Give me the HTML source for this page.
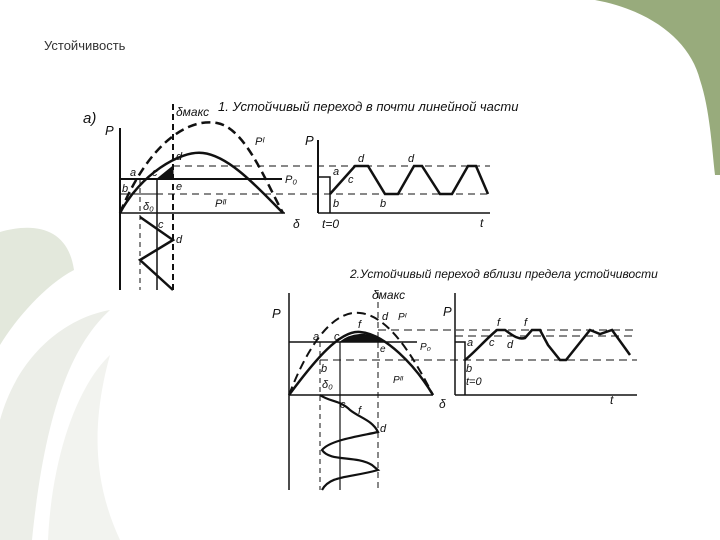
<!DOCTYPE html>
<html><head><meta charset="utf-8"><style>
html,body{margin:0;padding:0;width:720px;height:540px;overflow:hidden;background:#fff}
svg{position:absolute;left:0;top:0}
text{font-family:"Liberation Sans",sans-serif}
.it{font-style:italic;font-size:13px;fill:#111}
</style></head><body>
<svg width="720" height="540" viewBox="0 0 720 540">
<!-- background decorations -->
<path d="M0 232 C35 222 68 228 74 270 C45 285 15 320 0 345 Z" fill="#e3e8dc"/>
<path d="M0 420 C18 355 65 318 110 310 C72 345 45 410 32 540 L0 540 Z" fill="#eceee8"/>
<path d="M48 540 C52 455 78 385 110 355 C92 420 92 480 120 540 Z" fill="#f2f3ef"/>
<path d="M595 0 C650 10 690 40 700 80 C710 110 712 150 715 175 L720 175 L720 0 Z" fill="#98ab7c"/>
<text x="44" y="50" font-size="13" fill="#333">Устойчивость</text>

<g stroke="#111" fill="none">
<!-- Fig 1 -->
<line x1="120" y1="128" x2="120" y2="290" stroke-width="2"/>
<line x1="120" y1="213" x2="285" y2="213" stroke-width="1.5"/>
<line x1="120" y1="179" x2="282" y2="179" stroke-width="2"/>
<line x1="173" y1="166" x2="490" y2="166" stroke-dasharray="7,5"/>
<line x1="120" y1="194" x2="490" y2="194" stroke-dasharray="7,5"/>
<line x1="140" y1="179" x2="140" y2="290" stroke-dasharray="5,4"/>
<line x1="157" y1="179" x2="157" y2="290" stroke-width="1.5"/>
<line x1="173" y1="104" x2="173" y2="290" stroke-width="2" stroke-dasharray="6,4"/>
<path d="M120 213 C150 140 190 118 217 123 C245 128 265 180 283 213" stroke-width="2.5" stroke-dasharray="9,5"/>
<path d="M120 213 C140 175 180 150 203 153 C230 156 260 190 283 213" stroke-width="2.5"/>
<path d="M140 217 L173 240 L140 260 L173 290" stroke-width="2.5"/>
<path d="M157 179 L173 166 L173 179 Z" fill="#111"/>
<line x1="120" y1="194" x2="157" y2="194"/>
<!-- right plot 1 -->
<line x1="318" y1="140" x2="318" y2="213" stroke-width="2"/>
<line x1="318" y1="213" x2="490" y2="213" stroke-width="1.5"/>
<path d="M318 177 L330 177 L330 213" stroke-width="1.5"/>
<path d="M330 194 L355 166 L368 166 L385 194 L398 194 L414 166 L422 166 L440 194 L452 194 L468 166 L476 166 L488 194" stroke-width="2.5"/>

<!-- Fig 2 -->
<line x1="289" y1="293" x2="289" y2="490" stroke-width="1.5"/>
<line x1="289" y1="395" x2="433" y2="395" stroke-width="1.5"/>
<line x1="289" y1="342" x2="417" y2="342" stroke-width="1.5"/>
<line x1="378" y1="330" x2="637" y2="330" stroke-dasharray="8,5"/>
<line x1="455" y1="336" x2="637" y2="336" stroke-dasharray="8,5"/>
<line x1="320" y1="360" x2="637" y2="360" stroke-dasharray="8,5"/>
<line x1="320" y1="342" x2="320" y2="490" stroke-dasharray="5,4"/>
<line x1="340" y1="342" x2="340" y2="490" stroke-width="1.2"/>
<line x1="378" y1="292" x2="378" y2="490" stroke-dasharray="6,4"/>
<path d="M289 395 C310 340 335 310 360 313 C390 316 415 360 433 395" stroke-width="2" stroke-dasharray="9,5"/>
<path d="M289 395 C315 360 340 330 360 332 C385 334 415 365 433 395" stroke-width="2.5"/>
<path d="M340 342 C350 334 368 330 382 342 Z" fill="#111"/>
<path d="M320 395 C330 402 340 400 350 410 C360 418 372 420 378 432 C360 436 330 440 322 450 C330 462 355 455 372 465 L378 470 C350 478 330 475 322 490" stroke-width="2.2"/>
<line x1="455" y1="293" x2="455" y2="395" stroke-width="1.5"/>
<line x1="455" y1="395" x2="637" y2="395" stroke-width="1.5"/>
<path d="M455 342 L465 342 L465 395" stroke-width="1.5"/>
<path d="M465 360 C475 352 485 340 497 330 L505 330 C512 335 518 340 525 338 L532 330 L540 330 L548 345 L560 360 L566 360 L590 330 L600 334 L612 330 L625 348 L630 355" stroke-width="2.5"/>
</g>

<g class="it">
<text x="83" y="123" font-size="15">а)</text>
<text x="105" y="135">P</text>
<text x="176" y="116" font-size="12">δмакс</text>
<text x="218" y="111" font-size="13">1. Устойчивый переход в почти линейной части</text>
<text x="255" y="145" font-size="11">Pᴵ</text>
<text x="130" y="176" font-size="11">a</text>
<text x="152" y="176" font-size="11">c</text>
<text x="176" y="160" font-size="11">d</text>
<text x="176" y="190" font-size="11">e</text>
<text x="122" y="192" font-size="11">b</text>
<text x="143" y="210" font-size="11">δ₀</text>
<text x="285" y="183" font-size="11">P₀</text>
<text x="215" y="207" font-size="11">Pᴵᴵ</text>
<text x="158" y="228" font-size="11">c</text>
<text x="176" y="243" font-size="11">d</text>
<text x="293" y="228" font-size="12">δ</text>
<text x="305" y="145">P</text>
<text x="333" y="175" font-size="11">a</text>
<text x="348" y="183" font-size="11">c</text>
<text x="358" y="162" font-size="11">d</text>
<text x="408" y="162" font-size="11">d</text>
<text x="333" y="207" font-size="11">b</text>
<text x="380" y="207" font-size="11">b</text>
<text x="322" y="228" font-size="12">t=0</text>
<text x="480" y="227" font-size="12">t</text>

<text x="350" y="278" font-size="12">2.Устойчивый переход вблизи предела устойчивости</text>
<text x="372" y="299" font-size="12">δмакс</text>
<text x="272" y="318">P</text>
<text x="313" y="340" font-size="11">a</text>
<text x="334" y="340" font-size="11">c</text>
<text x="358" y="328" font-size="11">f</text>
<text x="382" y="320" font-size="11">d</text>
<text x="398" y="320" font-size="10">Pᴵ</text>
<text x="380" y="352" font-size="10">e</text>
<text x="420" y="350" font-size="10">P₀</text>
<text x="393" y="383" font-size="10">Pᴵᴵ</text>
<text x="321" y="372" font-size="11">b</text>
<text x="322" y="388" font-size="11">δ₀</text>
<text x="340" y="408" font-size="11">c</text>
<text x="358" y="414" font-size="11">f</text>
<text x="380" y="432" font-size="11">d</text>
<text x="439" y="408" font-size="12">δ</text>
<text x="443" y="316">P</text>
<text x="467" y="346" font-size="11">a</text>
<text x="489" y="346" font-size="11">c</text>
<text x="497" y="326" font-size="11">f</text>
<text x="524" y="326" font-size="11">f</text>
<text x="507" y="348" font-size="11">d</text>
<text x="466" y="372" font-size="11">b</text>
<text x="466" y="385" font-size="11">t=0</text>
<text x="610" y="404" font-size="12">t</text>
</g>
</svg>
</body></html>
